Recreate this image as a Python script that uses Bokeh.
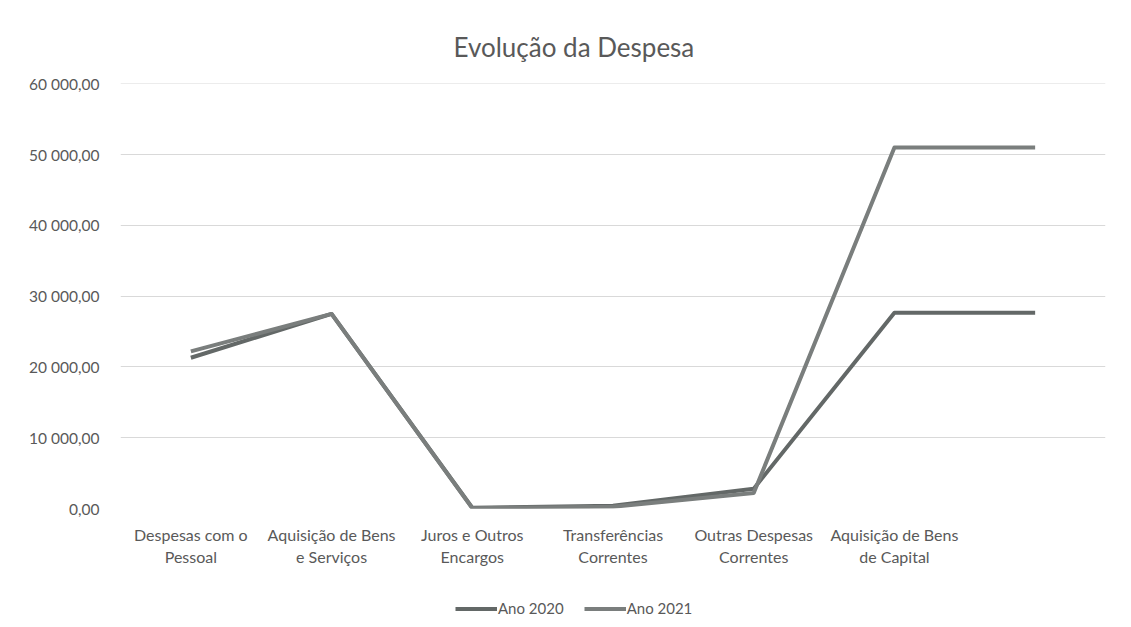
from bokeh.plotting import figure
from bokeh.layouts import column
from bokeh.models import FixedTicker, Legend, LegendItem, ColumnDataSource
from bokeh.embed import file_html
from bokeh.resources import INLINE

categories = ["Despesas com o\nPessoal", "Aquisição de Bens\ne Serviços", "Juros e Outros\nEncargos",
              "Transferências\nCorrentes", "Outras Despesas\nCorrentes", "Aquisição de Bens\nde Capital", " "]
ano_2020 = [21300, 27500, 100, 400, 2800, 27650, 27650]
ano_2021 = [22200, 27500, 50, 250, 2200, 51000, 51000]
y_ticks = [0, 10000, 20000, 30000, 40000, 50000, 60000]
y_tick_labels = ["0,00", "10 000,00", "20 000,00", "30 000,00", "40 000,00", "50 000,00", "60 000,00"]
series_names = ["Ano 2020", "Ano 2021"]

FONT = "Lato"
TXT = "#595959"
C2020 = "#636867"
C2021 = "#7a7e7d"

src = ColumnDataSource(dict(cat=categories, a2020=ano_2020, a2021=ano_2021))

p = figure(frame_width=985, frame_height=425, x_range=categories, y_range=(0, 60060),
           output_backend="svg", toolbar_location=None,
           min_border_left=120, min_border_right=26, min_border_top=83, min_border_bottom=80)

p.title.text = "Evolução da Despesa"
p.title.align = "left"
p.title.text_font = FONT
p.title.text_font_size = "26px"
p.title.text_font_style = "normal"
p.title.text_color = TXT
p.title.offset = 333
p.title.standoff = 41

p.outline_line_color = None
p.xgrid.grid_line_color = None
p.ygrid.grid_line_color = "#d9d9d9"
p.ygrid.grid_line_width = 1

p.yaxis.ticker = FixedTicker(ticks=y_ticks)
p.yaxis.major_label_overrides = {t: l for t, l in zip(y_ticks, y_tick_labels)}
for ax in (p.xaxis, p.yaxis):
    ax.axis_line_color = None
    ax.major_tick_line_color = None
    ax.minor_tick_line_color = None
    ax.major_label_text_font = FONT
    ax.major_label_text_color = TXT
p.yaxis.major_label_text_font_size = "15.5px"
p.xaxis.major_label_text_font_size = "16px"
p.yaxis.major_label_standoff = 15
p.xaxis.major_label_standoff = 10
p.x_range.range_padding = 0

p.line("cat", "a2020", source=src, line_color=C2020, line_width=4, line_join="round")
p.line("cat", "a2021", source=src, line_color=C2021, line_width=4, line_join="round")

# legend strip below the chart (legend-only renderers hold no visible data)
lg = figure(frame_width=1131, frame_height=39, x_range=(0, 1), y_range=(0, 1),
            output_backend="svg", toolbar_location=None, x_axis_type=None, y_axis_type=None,
            min_border_left=0, min_border_right=0, min_border_top=0, min_border_bottom=0)
lg.outline_line_color = None
lg.grid.grid_line_color = None
nan = float("nan")
l1 = lg.line(x=[nan], y=[nan], line_color=C2020, line_width=4)
l2 = lg.line(x=[nan], y=[nan], line_color=C2021, line_width=4)
legend = Legend(items=[LegendItem(label=series_names[0], renderers=[l1]),
                       LegendItem(label=series_names[1], renderers=[l2])],
                orientation="horizontal", location=(455, 10),
                label_text_font=FONT, label_text_font_size="15px", label_text_color=TXT,
                glyph_width=42, glyph_height=17, label_height=17, label_standoff=1, spacing=20,
                border_line_color=None, background_fill_alpha=0, margin=0, padding=0)
lg.add_layout(legend)

layout = column(p, lg, spacing=0)
open("out.html", "w").write(file_html(layout, INLINE))
